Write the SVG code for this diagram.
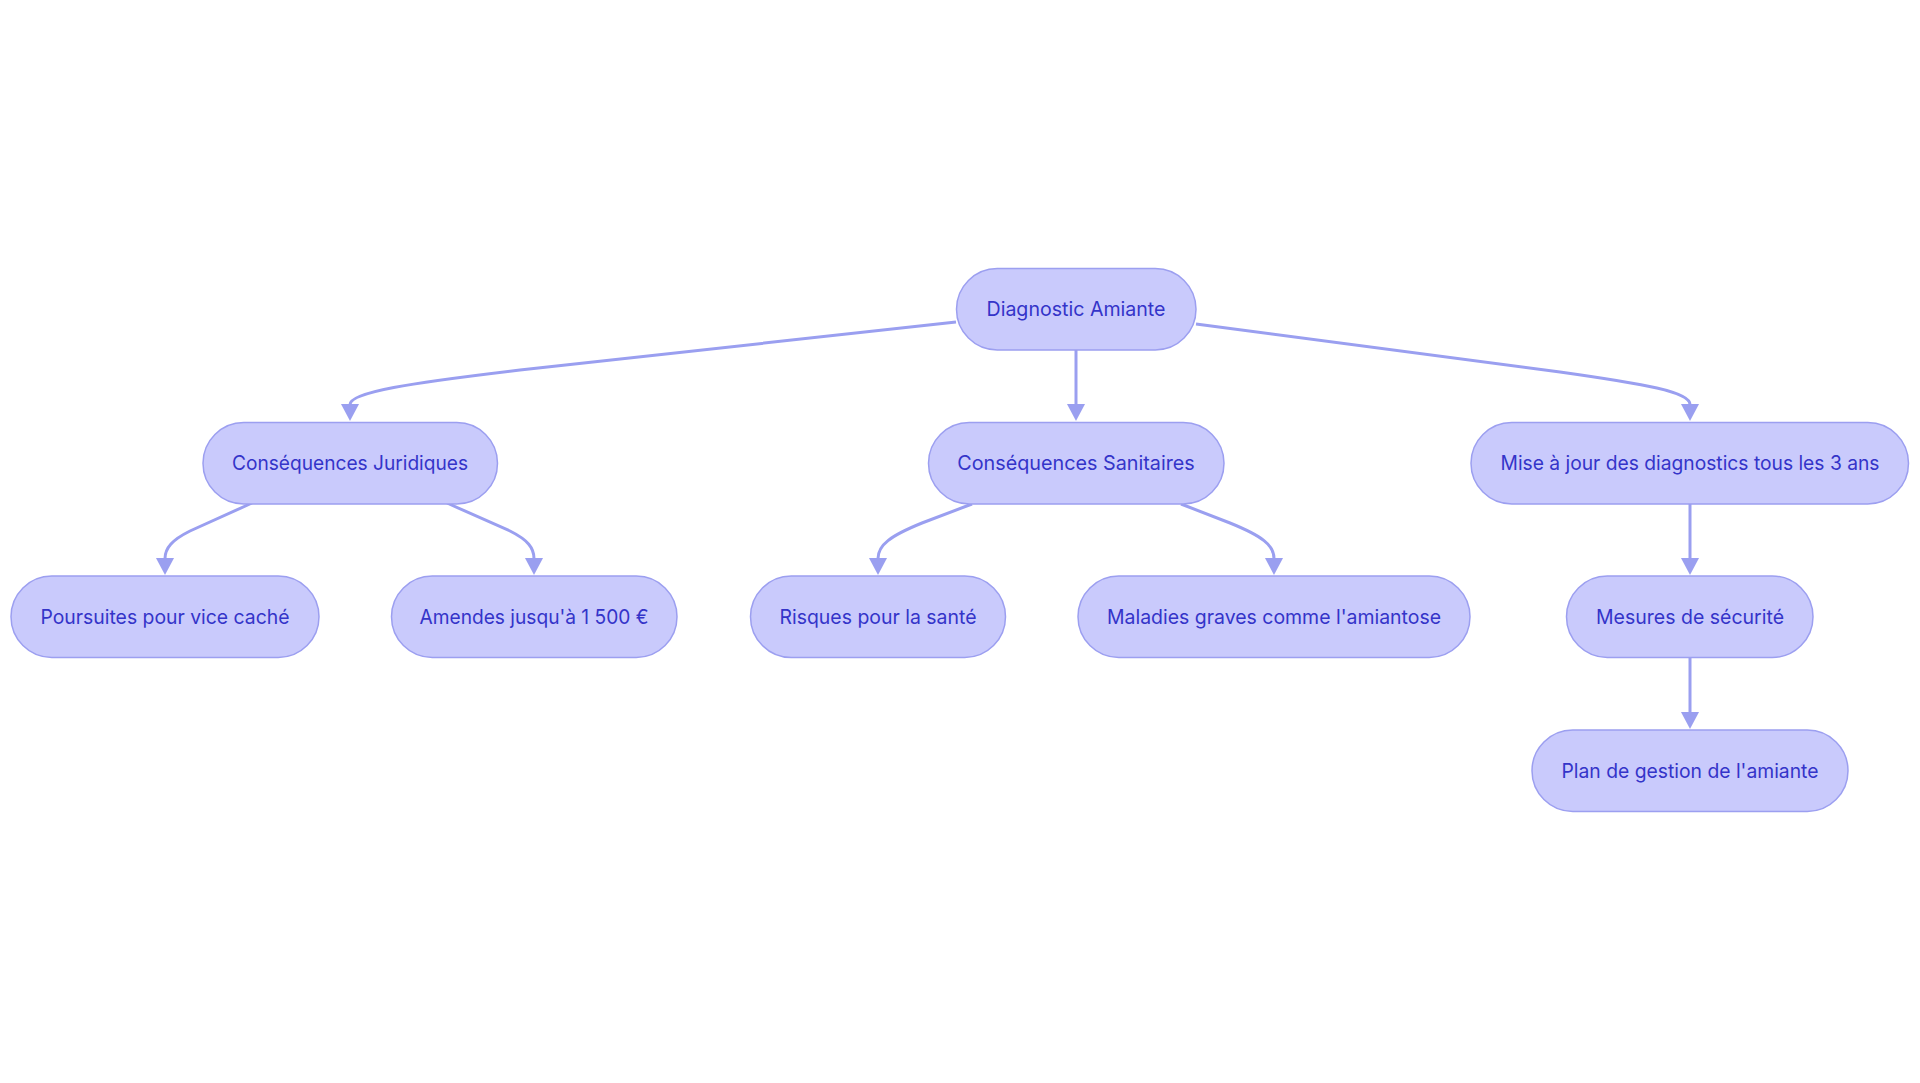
<svg xmlns="http://www.w3.org/2000/svg" width="1920" height="1083" viewBox="0 0 1920 1083">
<style>
.node rect{fill:#c9cafc;stroke:#9c9ff0;stroke-width:1.5}
.node text{font-family:Inter,"Open Sans","Liberation Sans",sans-serif;font-size:20px;fill:#3434c9;text-anchor:middle;dominant-baseline:central}
.edges path{fill:none;stroke:#9a9ff0;stroke-width:3;marker-end:url(#arr)}
</style>
<defs>
<marker id="arr" markerUnits="userSpaceOnUse" viewBox="0 0 17 18" markerWidth="17" markerHeight="18" refX="0.5" refY="9" orient="auto">
<path d="M0,0 L17,9 L0,18 z" fill="#9a9ff0"/>
</marker>
</defs>
<rect width="1920" height="1083" fill="#ffffff"/>
<g class="edges">
<path d="M956,322 L520,370 C410,383 350,392 350,404.5"/>
<path d="M1076,350 L1076,404.5"/>
<path d="M1196,324 L1560,372 C1645,384 1690,392 1690,404.5"/>
<path d="M252,503 L190,531 C172,540 165,548 165,558.5"/>
<path d="M447,503 L510,531 C528,540 534,548 534,558.5"/>
<path d="M972,504 L922,523 C890,536 878,545 878,558.5"/>
<path d="M1181,504 L1230,523 C1262,536 1274,545 1274,558.5"/>
<path d="M1690,504 L1690,558.5"/>
<path d="M1690,658 L1690,712.5"/>
</g>
<g id="n-root" class="node"><rect x="956.5" y="268.5" width="239.5" height="81.5" rx="40.75"/><text x="1076" y="309" textLength="179" lengthAdjust="spacingAndGlyphs">Diagnostic Amiante</text></g>
<g id="n-jur" class="node"><rect x="203" y="422.5" width="294.5" height="81.5" rx="40.75"/><text x="350" y="463" textLength="236" lengthAdjust="spacingAndGlyphs">Conséquences Juridiques</text></g>
<g id="n-san" class="node"><rect x="928.5" y="422.5" width="295.5" height="81.5" rx="40.75"/><text x="1076" y="463" textLength="237.5" lengthAdjust="spacingAndGlyphs">Conséquences Sanitaires</text></g>
<g id="n-maj" class="node"><rect x="1471" y="422.5" width="437.5" height="81.5" rx="40.75"/><text x="1690" y="463" textLength="379" lengthAdjust="spacingAndGlyphs">Mise à jour des diagnostics tous les 3 ans</text></g>
<g id="n-pou" class="node"><rect x="11" y="576" width="308" height="81.5" rx="40.75"/><text x="165" y="617" textLength="249" lengthAdjust="spacingAndGlyphs">Poursuites pour vice caché</text></g>
<g id="n-ame" class="node"><rect x="391.5" y="576" width="285.5" height="81.5" rx="40.75"/><text x="534" y="617" textLength="229" lengthAdjust="spacingAndGlyphs">Amendes jusqu'à 1 500 €</text></g>
<g id="n-ris" class="node"><rect x="750.5" y="576" width="255" height="81.5" rx="40.75"/><text x="878" y="617" textLength="197" lengthAdjust="spacingAndGlyphs">Risques pour la santé</text></g>
<g id="n-mal" class="node"><rect x="1078" y="576" width="392" height="81.5" rx="40.75"/><text x="1274" y="617" textLength="334" lengthAdjust="spacingAndGlyphs">Maladies graves comme l'amiantose</text></g>
<g id="n-mes" class="node"><rect x="1566.5" y="576" width="246.5" height="81.5" rx="40.75"/><text x="1690" y="617" textLength="188" lengthAdjust="spacingAndGlyphs">Mesures de sécurité</text></g>
<g id="n-plan" class="node"><rect x="1532" y="730" width="316" height="81.5" rx="40.75"/><text x="1690" y="771" textLength="257" lengthAdjust="spacingAndGlyphs">Plan de gestion de l'amiante</text></g>
</svg>
